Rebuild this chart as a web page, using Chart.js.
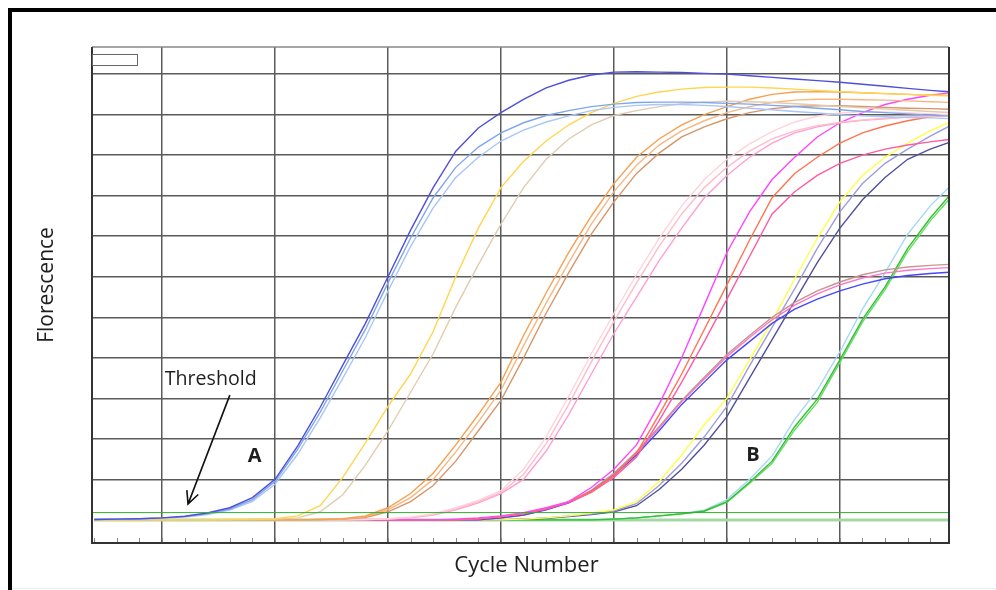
<!DOCTYPE html>
<html>
<head>
<meta charset="utf-8">
<title>Amplification plot</title>
<script src="https://cdn.jsdelivr.net/npm/chart.js"></script>
<style>
  body { margin: 0; background: #fff; }
  #wrap { width: 996px; height: 590px; }
</style>
</head>
<body>
<div id="wrap"><canvas id="amp" width="996" height="590"></canvas></div>
<script>
// Cycles (x) and grid positions
const cycles = [2,3,4,5,6,7,8,9,10,11,12,13,14,15,16,17,18,19,20,21,22,23,24,25,26,27,28,29,30,31,32,33,34,35,36,37,38,39,40];
const xGrid = [5,10,15,20,25,30,35];
const yGrid = [1,2,3,4,5,6,7,8,9,10,11];
const threshold = 0.18;

// Group A - earliest (blue)
const blueDark   = [0.01,0.02,0.03,0.05,0.09,0.17,0.3,0.55,1.0,1.82,2.78,3.82,4.85,6.0,7.15,8.2,9.1,9.67,10.05,10.38,10.66,10.85,10.98,11.05,11.06,11.05,11.04,11.02,11.0,10.96,10.92,10.88,10.84,10.8,10.75,10.7,10.65,10.6,10.56];
const blueLight1 = [0.01,0.02,0.03,0.05,0.08,0.15,0.27,0.5,0.95,1.74,2.66,3.68,4.7,5.85,6.95,7.95,8.7,9.2,9.55,9.8,9.98,10.1,10.2,10.26,10.3,10.31,10.31,10.3,10.28,10.26,10.23,10.2,10.16,10.12,10.08,10.05,10.02,9.99,9.96];
const blueLight2 = [0.01,0.02,0.03,0.04,0.07,0.13,0.24,0.46,0.88,1.62,2.52,3.5,4.5,5.65,6.75,7.7,8.45,8.95,9.35,9.62,9.82,9.97,10.1,10.18,10.23,10.25,10.25,10.23,10.2,10.16,10.12,10.08,10.04,10.0,9.97,9.95,9.93,9.92,9.9];
// yellow / tan
const gold = [0,0,0,0,0,0,0.01,0.02,0.03,0.1,0.35,1.05,1.9,2.8,3.6,4.65,6.0,7.2,8.2,8.85,9.35,9.75,10.05,10.28,10.45,10.56,10.63,10.67,10.68,10.68,10.66,10.63,10.6,10.57,10.54,10.52,10.5,10.48,10.47];
const tan  = [0,0,0,0,0,0,0,0.01,0.02,0.05,0.2,0.62,1.35,2.2,3.15,4.1,5.25,6.3,7.3,8.2,8.9,9.4,9.75,9.98,10.1,10.2,10.27,10.31,10.33,10.32,10.3,10.27,10.24,10.2,10.17,10.14,10.11,10.08,10.05];
// orange
const orange1 = [0,0,0,0,0,0,0,0,0,0,0.01,0.03,0.1,0.3,0.65,1.15,1.85,2.6,3.4,4.55,5.6,6.6,7.5,8.3,8.95,9.4,9.75,10.0,10.2,10.38,10.5,10.56,10.57,10.56,10.54,10.52,10.5,10.48,10.47];
const orange2 = [0,0,0,0,0,0,0,0,0,0,0.01,0.02,0.08,0.25,0.55,1.0,1.68,2.42,3.2,4.3,5.35,6.35,7.3,8.1,8.75,9.25,9.6,9.85,10.05,10.2,10.3,10.36,10.38,10.38,10.37,10.36,10.34,10.32,10.3];
const orange3 = [0,0,0,0,0,0,0,0,0,0,0.01,0.02,0.06,0.2,0.45,0.85,1.45,2.2,2.95,4.0,5.1,6.1,7.05,7.85,8.55,9.05,9.45,9.7,9.9,10.05,10.15,10.2,10.22,10.22,10.2,10.18,10.16,10.15,10.13];
// light pink
const pink1 = [0,0,0,0,0,0,0,0,0,0,0,0,0.01,0.03,0.07,0.15,0.3,0.48,0.72,1.25,2.05,3.05,4.1,5.1,6.05,6.95,7.75,8.4,8.9,9.28,9.58,9.82,9.96,10.04,10.07,10.07,10.05,10.02,10.0];
const pink2 = [0,0,0,0,0,0,0,0,0,0,0,0,0.01,0.02,0.06,0.13,0.27,0.45,0.68,1.12,1.88,2.85,3.9,4.9,5.85,6.75,7.55,8.2,8.7,9.1,9.4,9.6,9.73,9.81,9.87,9.91,9.94,9.96,9.98];
const pink3 = [0,0,0,0,0,0,0,0,0,0,0,0,0.01,0.02,0.05,0.12,0.25,0.42,0.65,1.0,1.7,2.6,3.6,4.6,5.5,6.4,7.2,7.95,8.5,8.95,9.3,9.55,9.7,9.8,9.86,9.9,9.94,9.97,9.99];
// magenta / red
const magenta  = [0,0,0,0,0,0,0,0,0,0,0,0,0,0,0,0,0.02,0.05,0.1,0.18,0.3,0.45,0.8,1.25,1.85,2.85,4.0,5.3,6.6,7.6,8.4,8.95,9.45,9.8,10.05,10.25,10.38,10.48,10.55];
const tomato   = [0,0,0,0,0,0,0,0,0,0,0,0,0,0,0,0,0,0.03,0.08,0.15,0.28,0.45,0.7,1.1,1.65,2.6,3.6,4.7,5.8,6.9,7.95,8.55,8.95,9.3,9.55,9.72,9.85,9.95,10.0];
const deepPink = [0,0,0,0,0,0,0,0,0,0,0,0,0,0,0,0,0,0.03,0.08,0.15,0.27,0.43,0.68,1.05,1.55,2.45,3.4,4.4,5.45,6.5,7.55,8.1,8.5,8.8,9.0,9.15,9.25,9.33,9.4];
// low plateau
const lowBlue  = [0,0,0,0,0,0,0,0,0,0,0,0,0,0,0,0,0,0,0.05,0.12,0.25,0.42,0.7,1.1,1.6,2.2,2.85,3.4,3.95,4.4,4.85,5.2,5.45,5.65,5.82,5.95,6.03,6.08,6.12];
const lowBrown = [0,0,0,0,0,0,0,0,0,0,0,0,0,0,0,0,0,0,0.05,0.12,0.26,0.44,0.73,1.15,1.68,2.3,2.95,3.52,4.08,4.55,5.0,5.37,5.65,5.87,6.05,6.17,6.24,6.28,6.31];
const lowPink  = [0,0,0,0,0,0,0,0,0,0,0,0,0,0,0,0,0,0,0.05,0.12,0.26,0.43,0.72,1.13,1.65,2.27,2.92,3.48,4.03,4.5,4.94,5.3,5.58,5.8,5.97,6.09,6.16,6.2,6.23];
// late yellow / lavender / navy
const yellow   = [0,0,0,0,0,0,0,0,0,0,0,0,0,0,0,0,0,0,0,0.02,0.05,0.1,0.17,0.25,0.45,0.95,1.6,2.35,3.0,3.95,4.9,5.95,6.95,7.85,8.5,8.95,9.3,9.6,9.85];
const lavender = [0,0,0,0,0,0,0,0,0,0,0,0,0,0,0,0,0,0,0,0.02,0.05,0.1,0.15,0.22,0.4,0.85,1.4,2.05,2.8,3.8,4.75,5.7,6.7,7.6,8.3,8.8,9.15,9.47,9.76];
const navy     = [0,0,0,0,0,0,0,0,0,0,0,0,0,0,0,0,0,0,0,0.02,0.04,0.08,0.13,0.2,0.35,0.75,1.25,1.85,2.55,3.5,4.45,5.4,6.35,7.2,7.9,8.45,8.9,9.15,9.35];
// Group B - latest (green)
const green1   = [0,0,0,0,0,0,0,0,0,0,0,0,0,0,0,0,0,0,0,0,0,0,0,0.02,0.05,0.1,0.15,0.22,0.45,0.93,1.45,2.3,2.98,3.95,4.95,5.75,6.7,7.45,8.1];
const green2   = [0,0,0,0,0,0,0,0,0,0,0,0,0,0,0,0,0,0,0,0,0,0,0,0.02,0.05,0.1,0.15,0.21,0.43,0.9,1.4,2.22,2.9,3.88,4.88,5.68,6.62,7.38,8.02];
const skyBlue  = [0,0,0,0,0,0,0,0,0,0,0,0,0,0,0,0,0,0,0,0,0,0,0,0.02,0.05,0.1,0.16,0.24,0.5,1.0,1.58,2.48,3.2,4.15,5.2,6.1,7.05,7.75,8.3];
// no template control
const ntc      = [0,0,0,0,0,0,0,0,0,0,0,0,0,0,0,0,0,0,0,0,0,0,0,0,0,0,0,0,0,0,0,0,0,0,0,0,0,0,0];

const xMin = 1.9, xMax = 39.83;
const yMin = -0.57, yMax = 11.67;

// annotation anchors, in data units
const thresholdLabel = { x: 5.12, y: 3.34 };
const arrowFrom = { x: 8.0, y: 3.08 };
const arrowTo = { x: 6.15, y: 0.39 };
const labelA = { x: 9.1, y: 1.57 };
const labelB = { x: 31.15, y: 1.6 };

const pts = vals => vals.map((v, i) => ({ x: cycles[i], y: v }));

const curves = [
  [blueDark, '#4f4fd8'], [blueLight1, '#7ea6ee'], [blueLight2, '#a9c6f5'],
  [gold, '#ffd54f'], [tan, '#e2cbb0'],
  [orange1, '#f7a050'], [orange2, '#f6b782'], [orange3, '#d6966a'],
  [pink1, '#ffd3da'], [pink2, '#ffbccb'], [pink3, '#ff9fd0'],
  [magenta, '#ff45ff'], [tomato, '#ff7350'], [deepPink, '#ff5aa2'],
  [lowBlue, '#4646ff'], [lowBrown, '#c99393'], [lowPink, '#ff74c4'],
  [yellow, '#ffff48'], [lavender, '#9d9ddc'], [navy, '#50509c'],
  [green1, '#33c033'], [green2, '#66dd66'], [skyBlue, '#a8d8f2']
];

const datasets = [
  { data: [{ x: xMin, y: threshold }, { x: xMax, y: threshold }], borderColor: '#2fae2f', borderWidth: 1 }
];
curves.forEach(([vals, color]) => {
  datasets.push({ data: pts(vals), borderColor: color, borderWidth: 1.4 });
});
datasets.push({ data: pts(ntc), borderColor: '#a3d9a3', borderWidth: 3 });

// frame, minor ticks, titles and notes
const decor = {
  id: 'decor',
  afterDraw(chart) {
    const { ctx, chartArea: a, scales: { x, y } } = chart;
    ctx.save();

    // minor ticks on the cycle axis
    ctx.strokeStyle = '#888';
    ctx.lineWidth = 1;
    cycles.forEach(c => {
      const px = Math.round(x.getPixelForValue(c)) + 0.5;
      if (px <= a.left + 1 || px >= a.right - 1) return;
      ctx.beginPath();
      ctx.moveTo(px, a.bottom);
      ctx.lineTo(px, a.bottom - 5);
      ctx.stroke();
    });

    // plot frame
    ctx.strokeStyle = '#888';
    ctx.lineWidth = 1.5;
    ctx.beginPath();
    ctx.moveTo(a.left, a.top); ctx.lineTo(a.right, a.top);
    ctx.stroke();
    ctx.strokeStyle = '#333';
    ctx.lineWidth = 2;
    ctx.beginPath();
    ctx.moveTo(a.left, a.top); ctx.lineTo(a.left, a.bottom);
    ctx.lineTo(a.right, a.bottom); ctx.lineTo(a.right, a.top);
    ctx.stroke();

    // empty legend box
    ctx.fillStyle = '#fff';
    ctx.fillRect(a.left + 0.5, a.top + 7.5, 45, 11);
    ctx.strokeStyle = '#666';
    ctx.lineWidth = 1;
    ctx.strokeRect(a.left + 0.5, a.top + 7.5, 45, 11);

    // outer frame
    ctx.fillStyle = '#000';
    ctx.fillRect(8, 8, 4, 582);
    ctx.fillRect(8, 8, 988, 4);
    ctx.fillStyle = '#eee';
    ctx.fillRect(12, 588, 984, 1);

    // axis titles
    ctx.fillStyle = '#1e1e1e';
    ctx.font = '22px "Open Sans"';
    ctx.textAlign = 'center';
    ctx.textBaseline = 'middle';
    ctx.fillText('Cycle Number', (a.left + a.right) / 2 + 6, a.bottom + 23);
    ctx.font = '21px "Open Sans"';
    ctx.save();
    ctx.translate(47, (a.top + a.bottom) / 2 - 10);
    ctx.rotate(-Math.PI / 2);
    ctx.fillText('Florescence', 0, 0);
    ctx.restore();

    // threshold note and arrow
    ctx.font = '19.6px "Open Sans"';
    ctx.textAlign = 'left';
    ctx.textBaseline = 'alphabetic';
    ctx.fillText('Threshold', x.getPixelForValue(thresholdLabel.x), y.getPixelForValue(thresholdLabel.y));

    const x0 = x.getPixelForValue(arrowFrom.x), y0 = y.getPixelForValue(arrowFrom.y);
    const x1 = x.getPixelForValue(arrowTo.x), y1 = y.getPixelForValue(arrowTo.y);
    const ang = Math.atan2(y1 - y0, x1 - x0);
    ctx.strokeStyle = '#111';
    ctx.lineWidth = 1.6;
    ctx.beginPath();
    ctx.moveTo(x0, y0); ctx.lineTo(x1, y1);
    ctx.moveTo(x1 - 14 * Math.cos(ang - 0.45), y1 - 14 * Math.sin(ang - 0.45));
    ctx.lineTo(x1, y1);
    ctx.lineTo(x1 - 14 * Math.cos(ang + 0.45), y1 - 14 * Math.sin(ang + 0.45));
    ctx.stroke();

    // group labels
    ctx.font = 'bold 20px "Open Sans"';
    ctx.textAlign = 'center';
    ctx.textBaseline = 'middle';
    ctx.fillText('A', x.getPixelForValue(labelA.x), y.getPixelForValue(labelA.y));
    ctx.fillText('B', x.getPixelForValue(labelB.x), y.getPixelForValue(labelB.y));

    ctx.restore();
  }
};

new Chart(document.getElementById('amp'), {
  type: 'line',
  data: { datasets },
  options: {
    responsive: false,
    animation: false,
    devicePixelRatio: 1,
    layout: { padding: { left: 92, top: 47, right: 47, bottom: 47 } },
    elements: { point: { radius: 0 }, line: { tension: 0 } },
    plugins: { legend: { display: false }, tooltip: { enabled: false } },
    scales: {
      x: {
        type: 'linear', min: xMin, max: xMax,
        afterBuildTicks: s => { s.ticks = xGrid.map(v => ({ value: v })); },
        ticks: { display: false },
        grid: { color: '#5a5a5a', lineWidth: 1.5, drawTicks: false },
        border: { display: false }
      },
      y: {
        type: 'linear', min: yMin, max: yMax,
        afterBuildTicks: s => { s.ticks = yGrid.map(v => ({ value: v })); },
        ticks: { display: false },
        grid: { color: '#5a5a5a', lineWidth: 1.5, drawTicks: false },
        border: { display: false }
      }
    }
  },
  plugins: [decor]
});
</script>
</body>
</html>
